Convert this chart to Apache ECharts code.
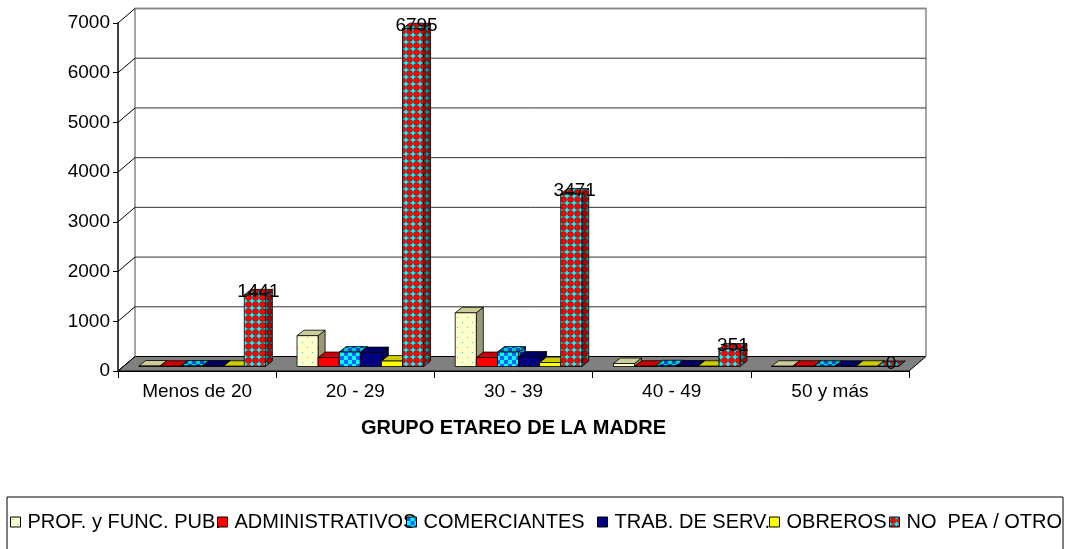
<!DOCTYPE html>
<html>
<head>
<meta charset="utf-8">
<script src="https://cdn.jsdelivr.net/npm/echarts@6/dist/echarts.min.js"></script>
<style>
  html, body { margin: 0; padding: 0; background: #fff; }
  #main { width: 1067px; height: 549px; }
</style>
</head>
<body>
<div id="main"></div>
<script>
var categories = ['Menos de 20', '20 - 29', '30 - 39', '40 - 49', '50 y más'];
var seriesNames = ['PROF. y FUNC. PUB.', 'ADMINISTRATIVOS', 'COMERCIANTES', 'TRAB. DE SERV.', 'OBREROS', 'NO  PEA / OTRO'];
var prof = [10, 620, 1080, 60, 5];
var admin = [5, 180, 180, 5, 5];
var comer = [10, 290, 290, 15, 5];
var trab = [10, 280, 190, 10, 5];
var obreros = [5, 110, 80, 5, 5];
var noPea = [1441, 6795, 3471, 351, 0];
var yTicks = [0, 1000, 2000, 3000, 4000, 5000, 6000, 7000];

var allValues = [prof, admin, comer, trab, obreros, noPea];
var FONT = '"Liberation Sans", Arial, sans-serif';

// depth of the 3d box and of the bars
var DX = 17, DY = -14.5;
var FX = 5, FY = -4.5, BDX = 7, BDY = -5.5;

function tile(size, draw) {
  var c = document.createElement('canvas');
  c.width = size; c.height = size;
  draw(c.getContext('2d'));
  return { image: c, repeat: 'repeat' };
}
function dots(bg, dot) {
  return tile(10, function (g) {
    g.fillStyle = bg; g.fillRect(0, 0, 10, 10);
    g.fillStyle = dot; g.fillRect(2, 2, 1, 1); g.fillRect(7, 7, 1, 1);
  });
}
function checker(a, b) {
  return tile(8, function (g) {
    g.fillStyle = a; g.fillRect(0, 0, 8, 8);
    g.fillStyle = b; g.fillRect(0, 0, 4, 4); g.fillRect(4, 4, 4, 4);
  });
}
function circles(bg, fg, edge) {
  return tile(7, function (g) {
    g.fillStyle = bg; g.fillRect(0, 0, 7, 7);
    g.fillStyle = fg; g.beginPath(); g.arc(3.5, 3.5, 3, 0, Math.PI * 2); g.fill();
    g.strokeStyle = edge; g.lineWidth = 0.6; g.stroke();
  });
}

// [front, top, side]
var fills = [
  [dots('#FFFFCC', '#33CCCC'), '#CCCC99', '#999977'],
  ['#FF0000', '#CC0000', '#990000'],
  [checker('#00FFFF', '#0066FF'), checker('#00CCCC', '#0050CC'), checker('#009999', '#003399')],
  ['#000080', '#000066', '#000050'],
  ['#FFFF00', '#CCCC00', '#999900'],
  [circles('#00FFFF', '#FF0000', '#990000'), circles('#00CCCC', '#DD0000', '#770000'), circles('#009999', '#AA0000', '#550000')]
];
var baseColors = ['#FFFFCC', '#FF0000', '#00FFFF', '#000080', '#FFFF00', '#FF0000'];

var chart = echarts.init(document.getElementById('main'));

function frameItem(params, api) {
  var cs = params.coordSys;
  var v = api.value(0);
  var p = api.coord([0, v]);
  var y = p[1];
  var xl = cs.x, xr = cs.x + cs.width;
  var children = [];
  if (v === 0) {
    children.push({
      type: 'polygon',
      shape: { points: [[xl, y], [xr, y], [xr + DX, y + DY], [xl + DX, y + DY]] },
      style: { fill: '#808080', stroke: '#000', lineWidth: 1 }
    });
    var yTop = cs.y + DY;
    children.push({
      type: 'polyline',
      shape: { points: [[xl + DX, y + DY], [xl + DX, yTop], [xr + DX, yTop], [xr + DX, y + DY]] },
      style: { fill: null, stroke: '#888', lineWidth: 1.5 }
    });
  } else {
    children.push({
      type: 'line',
      shape: { x1: xl + DX, y1: y + DY, x2: xr + DX, y2: y + DY },
      style: { stroke: v === 7000 ? '#888' : '#333', lineWidth: v === 7000 ? 1.5 : 1 }
    });
  }
  children.push({
    type: 'line',
    shape: { x1: xl, y1: y, x2: xl + DX, y2: y + DY },
    style: { stroke: '#000', lineWidth: 1 }
  });
  return { type: 'group', children: children };
}

function barRenderer(si) {
  return function (params, api) {
    var ci = api.value(0), v = api.value(1);
    var c0 = api.coord([ci, 0]);
    var c1 = api.coord([ci, v]);
    var band = api.size([1, 0])[0];
    var bw = band * 0.8 / 6;
    var x0 = c0[0] - band * 0.4 + si * bw + FX;
    var yb = c0[1] + FY;
    var yt = c1[1] + FY;
    var f = fills[si];
    var line = { stroke: '#000', lineWidth: 0.8 };
    var children = [
      {
        type: 'polygon',
        shape: { points: [[x0 + bw, yt], [x0 + bw, yb], [x0 + bw + BDX, yb + BDY], [x0 + bw + BDX, yt + BDY]] },
        style: Object.assign({ fill: f[2] }, line)
      },
      {
        type: 'polygon',
        shape: { points: [[x0, yt], [x0 + bw, yt], [x0 + bw + BDX, yt + BDY], [x0 + BDX, yt + BDY]] },
        style: Object.assign({ fill: f[1] }, line)
      },
      {
        type: 'rect',
        shape: { x: x0, y: yt, width: bw, height: Math.max(yb - yt, 0) },
        style: Object.assign({ fill: f[0] }, line)
      }
    ];
    if (si === 5) {
      children.push({
        type: 'text',
        style: {
          text: String(v), x: x0 + (bw + BDX) / 2, y: yt - 3,
          align: 'center', verticalAlign: 'middle',
          font: '19px ' + FONT, fill: '#000'
        }
      });
    }
    return { type: 'group', children: children };
  };
}

var series = [{
  name: 'frame',
  type: 'custom',
  z: 1,
  silent: true,
  renderItem: frameItem,
  encode: { y: 0 },
  data: yTicks.map(function (t) { return [t]; })
}];
seriesNames.forEach(function (name, si) {
  series.push({
    name: name,
    type: 'custom',
    z: 2,
    itemStyle: { color: baseColors[si] },
    renderItem: barRenderer(si),
    encode: { x: 0, y: 1 },
    data: allValues[si].map(function (v, ci) { return [ci, v]; })
  });
});

var legendLefts = [10, 217, 406, 597, 769, 889];
var legends = seriesNames.map(function (name, si) {
  return {
    left: legendLefts[si],
    top: 512,
    itemWidth: 10,
    itemHeight: 10,
    itemGap: 0,
    padding: 0,
    selectedMode: false,
    textStyle: { fontFamily: FONT, fontSize: 20, color: '#000', padding: [0, 0, 0, 2] },
    data: [{
      name: name,
      icon: 'rect',
      itemStyle: { color: fills[si][0], borderColor: '#000', borderWidth: 1 }
    }]
  };
});

chart.setOption({
  animation: false,
  backgroundColor: '#fff',
  grid: { left: 118, right: 158, top: 23, bottom: 178 },
  legend: legends,
  xAxis: {
    type: 'category',
    data: categories,
    boundaryGap: true,
    axisLine: { lineStyle: { color: '#000', width: 1 } },
    axisTick: { show: true, length: 7, lineStyle: { color: '#000' } },
    axisLabel: { fontFamily: FONT, fontSize: 19, color: '#000', margin: 11 },
    name: 'GRUPO ETAREO DE LA MADRE',
    nameLocation: 'middle',
    nameGap: 47,
    nameTextStyle: { fontFamily: FONT, fontSize: 20, fontWeight: 'bold', color: '#000' }
  },
  yAxis: {
    type: 'value',
    min: 0,
    max: 7000,
    interval: 1000,
    axisLine: { show: true, lineStyle: { color: '#000', width: 1.5 } },
    axisTick: { show: true, length: 5, lineStyle: { color: '#000' } },
    axisLabel: {
      fontFamily: FONT, fontSize: 19, color: '#000', margin: 8,
      formatter: function (v) { return String(v); }
    },
    splitLine: { show: false }
  },
  graphic: [
    {
      type: 'rect',
      shape: { x: 7, y: 497, width: 1056, height: 80 },
      style: { fill: null, stroke: '#000', lineWidth: 1 },
      z: 10
    },
    {
      type: 'rect',
      shape: { x: 1064, y: 490, width: 10, height: 80 },
      style: { fill: '#fff' },
      z: 20
    }
  ],
  series: series
});
</script>
</body>
</html>
